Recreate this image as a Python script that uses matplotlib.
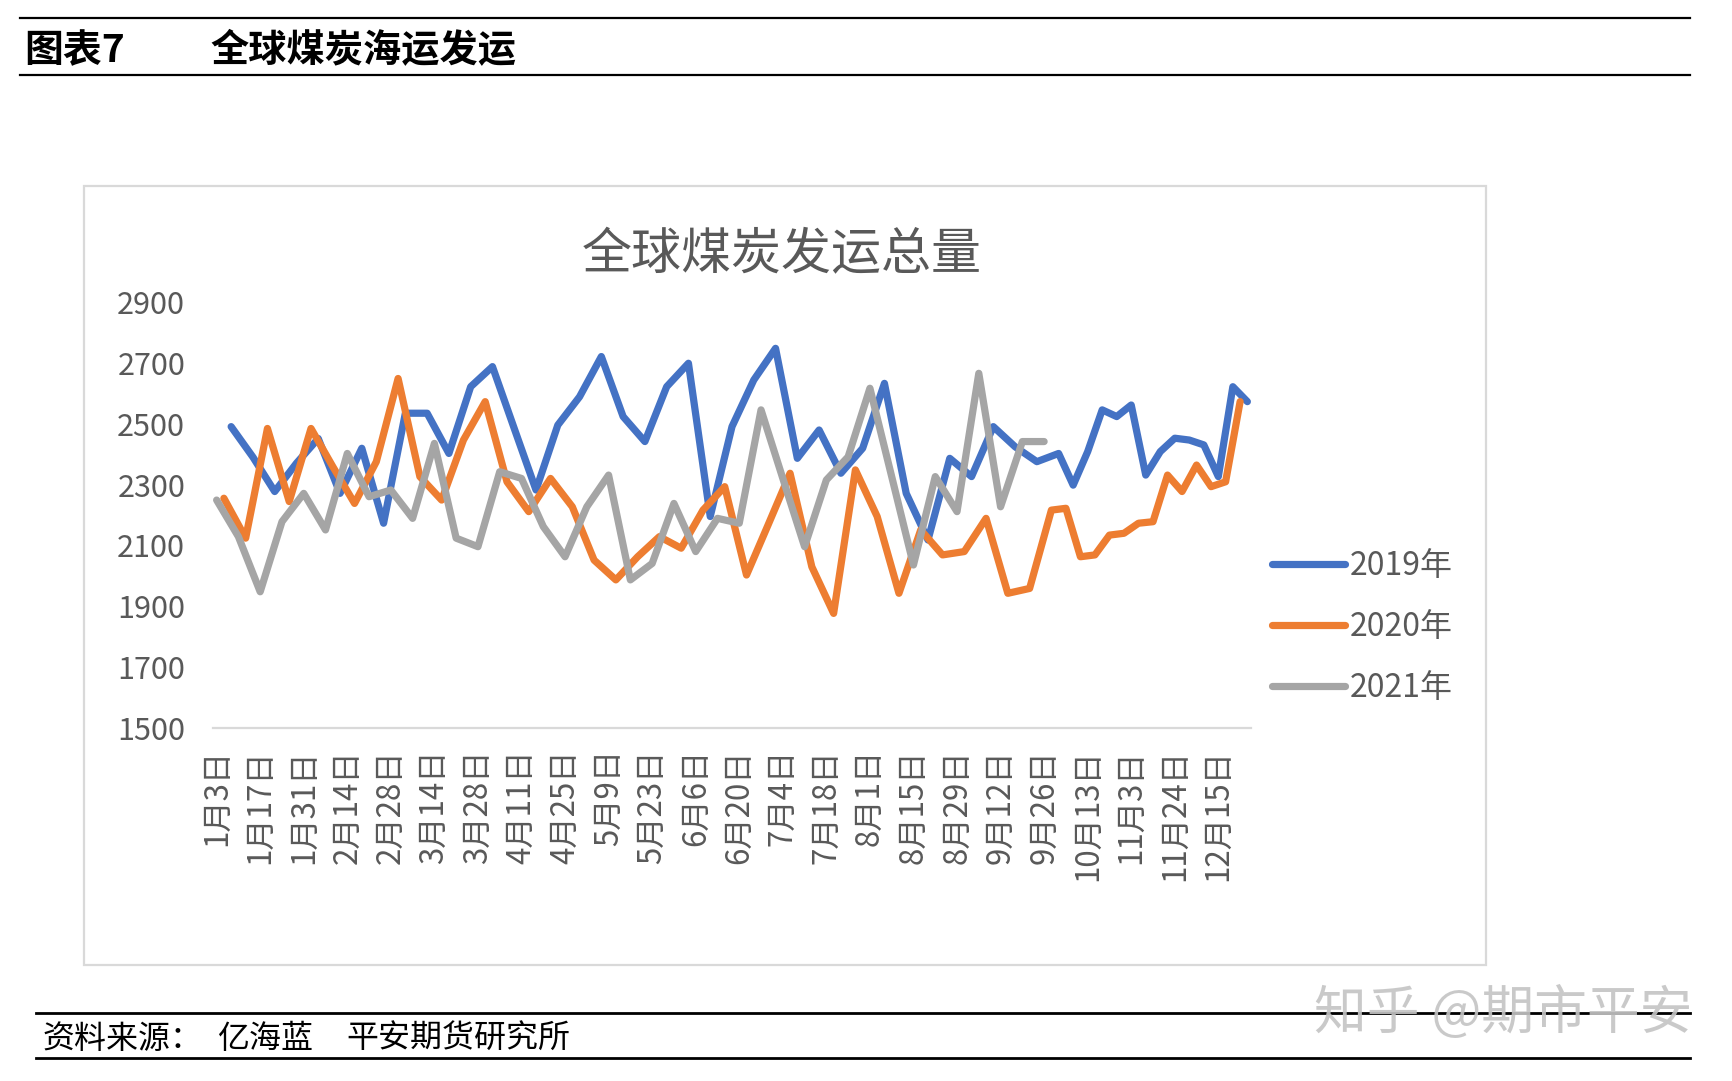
import matplotlib
matplotlib.use("Agg")
import matplotlib.pyplot as plt
from matplotlib.lines import Line2D
from matplotlib.patches import Rectangle
import pandas as pd
import numpy as np

plt.rcParams['font.family'] = ['Noto Sans CJK SC', 'DejaVu Sans']

# weekly dates of each year (Sundays)
dates_2019 = pd.date_range('2019-01-06', periods=52, freq='7D')
dates_2020 = pd.date_range('2020-01-05', periods=52, freq='7D')
dates_2021 = pd.date_range('2021-01-03', periods=39, freq='7D')

v2019 = [2490, 2390, 2277, 2370, 2451, 2271, 2419, 2173, 2534, 2534, 2402, 2621, 2687,
         2484, 2282, 2495, 2588, 2720, 2523, 2441, 2621, 2698, 2195, 2490, 2643, 2747,
         2386, 2479, 2337, 2419, 2632, 2271, 2118, 2386, 2326, 2490, 2424, 2375, 2402,
         2298, 2408, 2545, 2523, 2561, 2331, 2408, 2452, 2446, 2430, 2326, 2621, 2572]
v2020 = [2255, 2124, 2484, 2244, 2484, 2359, 2238, 2375, 2648, 2326, 2249, 2446, 2572,
         2309, 2211, 2320, 2227, 2052, 1987, 2063, 2129, 2091, 2216, 2293, 2003, 2169,
         2337, 2030, 1877, 2348, 2195, 1943, 2151, 2069, 2080, 2189, 1943, 1959, 2216,
         2222, 2063, 2069, 2134, 2140, 2173, 2178, 2331, 2277, 2364, 2293, 2309, 2572]
v2021 = [2249, 2129, 1948, 2178, 2271, 2151, 2402, 2260, 2282, 2189, 2435, 2124, 2096,
         2342, 2320, 2162, 2063, 2227, 2331, 1987, 2041, 2238, 2080, 2189, 2173, 2545,
         2320, 2096, 2315, 2391, 2616, 2326, 2036, 2326, 2211, 2665, 2227, 2441, 2441]

series = [
    ('2019年', dates_2019, v2019, '#4472C4'),
    ('2020年', dates_2020, v2020, '#ED7D31'),
    ('2021年', dates_2021, v2021, '#A5A5A5'),
]

# merged category axis (month-day of all years, sorted)
md_all = sorted(set((d.month, d.day) for _, ds, _, _ in series for d in ds))
cat_index = {md: i for i, md in enumerate(md_all)}
cat_labels = [f"{m}月{d}日" for m, d in md_all]

W, H = 1732, 1081
fig = plt.figure(figsize=(W / 100, H / 100), dpi=100)

ax = fig.add_axes([213 / W, 1 - 728.3 / H, (1251 - 213) / W, (728.3 - 301.7) / H])
for name, ds, vals, col in series:
    xs = [cat_index[(d.month, d.day)] for d in ds]
    ax.plot(xs, vals, color=col, lw=5.2, solid_capstyle='round',
            solid_joinstyle='round', label=name)

ax.set_xlim(-0.5, len(md_all) - 0.5)
ax.set_ylim(1500, 2900)
ax.set_yticks(np.arange(1500, 2901, 200))
ticks = list(range(0, len(md_all), 6))
ax.set_xticks(ticks)
ax.set_xticklabels([cat_labels[i] for i in ticks], rotation=90)
for s in ['top', 'right', 'left']:
    ax.spines[s].set_visible(False)
ax.spines['bottom'].set_color('#D9D9D9')
ax.spines['bottom'].set_linewidth(1.6)
ax.tick_params(axis='y', length=0, pad=20, labelsize=22, labelcolor='#595959')
ax.tick_params(axis='x', length=0, pad=15, labelsize=22.5, labelcolor='#595959')

leg = fig.legend(loc='upper left', bbox_to_anchor=(1272 / W, 1 - 550.5 / H),
                 frameon=False, fontsize=23, handlelength=2.3, handletextpad=0.12,
                 labelspacing=0.9, borderpad=0, borderaxespad=0, labelcolor='#595959')

# chart frame and title
fig.add_artist(Rectangle((84 / W, 1 - 965 / H), 1402 / W, 779.4 / H, transform=fig.transFigure,
                         fill=False, edgecolor='#D9D9D9', lw=1.6))
fig.text(782 / W, 1 - 255 / H, '全球煤炭发运总量', ha='center', va='center',
         fontsize=36, color='#595959')

# report header
for yy in [17.7, 75]:
    fig.add_artist(Line2D([20 / W, 1690 / W], [1 - yy / H, 1 - yy / H],
                          transform=fig.transFigure, color='black', lw=1.6))
fig.text(24 / W, 1 - 51 / H, '图表7', ha='left', va='center', fontsize=28,
         fontweight='heavy', color='black')
fig.text(210 / W, 1 - 51 / H, '全球煤炭海运发运', ha='left', va='center', fontsize=27.5,
         fontweight='heavy', color='black')

# footer
for yy in [1013, 1058]:
    fig.add_artist(Line2D([36 / W, 1690 / W], [1 - yy / H, 1 - yy / H],
                          transform=fig.transFigure, color='black', lw=2))
fig.text(42 / W, 1 - 1039 / H, '资料来源：', ha='left', va='center', fontsize=23)
fig.text(217 / W, 1 - 1039 / H, '亿海蓝', ha='left', va='center', fontsize=23)
fig.text(346 / W, 1 - 1039 / H, '平安期货研究所', ha='left', va='center', fontsize=23)
fig.text(1314 / W, 1 - 1014 / H, '知乎 @期市平安', ha='left', va='center', fontsize=38,
         color='#C4C4C4', alpha=0.9)

fig.savefig('out.png', dpi=100)
